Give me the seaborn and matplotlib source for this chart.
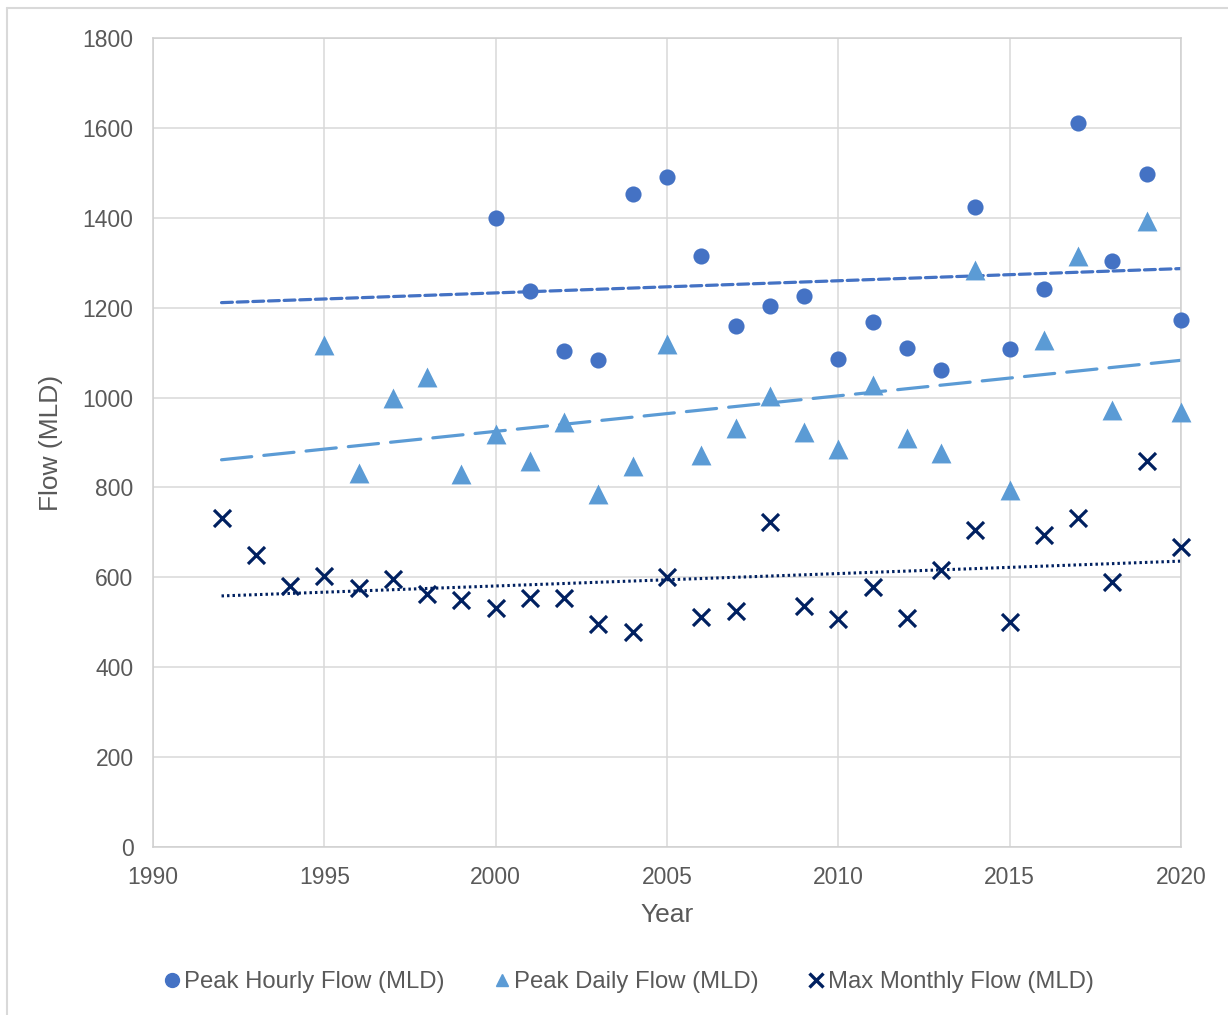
import numpy as np
import pandas as pd
import matplotlib
matplotlib.use("Agg")
import matplotlib.pyplot as plt
from matplotlib.lines import Line2D
import seaborn as sns

# Annual flow records (MLD)
hourly_years = list(range(2000, 2021))
hourly_flow = [1400, 1237, 1104, 1084, 1453, 1491, 1315, 1159, 1204, 1226, 1086,
               1168, 1110, 1061, 1424, 1108, 1242, 1611, 1304, 1498, 1173]

daily_years = list(range(1995, 2021))
daily_flow = [1117, 832, 999, 1046, 830, 919, 859, 946, 785, 848, 1119, 872, 932,
              1004, 923, 886, 1028, 910, 877, 1284, 794, 1128, 1315, 972, 1393, 968]

monthly_years = list(range(1992, 2021))
monthly_flow = [732, 650, 581, 603, 576, 596, 563, 550, 532, 554, 554, 496, 478,
                601, 512, 525, 723, 536, 507, 579, 510, 616, 705, 501, 694, 732,
                590, 859, 668]

series_names = ["Peak Hourly Flow (MLD)", "Peak Daily Flow (MLD)", "Max Monthly Flow (MLD)"]
trend_span = [1992, 2020]

c_hourly = "#4472C4"
c_daily = "#5B9BD5"
c_monthly = "#002060"
text_col = "#595959"
grid_col = "#D9D9D9"

sns.set_theme(style="white")
plt.rcParams["font.family"] = ["Liberation Sans", "DejaVu Sans"]

fig = plt.figure(figsize=(12.28, 10.15), dpi=100)
ax = fig.add_axes([153 / 1228, 1 - 847 / 1015, (1181 - 153) / 1228, (847 - 38) / 1015])

df_h = pd.DataFrame({"year": hourly_years, "flow": hourly_flow})
df_d = pd.DataFrame({"year": daily_years, "flow": daily_flow})
df_m = pd.DataFrame({"year": monthly_years, "flow": monthly_flow})

# Linear trend lines across the full record span
def trend(df):
    k, b = np.polyfit(df["year"], df["flow"], 1)
    xs = np.array(trend_span, dtype=float)
    return pd.DataFrame({"year": xs, "flow": k * xs + b})

t_h, t_d, t_m = trend(df_h), trend(df_d), trend(df_m)

sns.lineplot(data=t_h, x="year", y="flow", ax=ax, color=c_hourly, lw=2.3, zorder=2)
ax.lines[-1].set_dashes((3.4, 1.5))
ax.lines[-1].set_dash_capstyle("round")
sns.lineplot(data=t_d, x="year", y="flow", ax=ax, color=c_daily, lw=2.3, zorder=2)
ax.lines[-1].set_dashes((9.5, 3.8))
ax.lines[-1].set_dash_capstyle("round")
sns.lineplot(data=t_m, x="year", y="flow", ax=ax, color=c_monthly, lw=2.2, zorder=2)
ax.lines[-1].set_dashes((0.8, 1.0))
ax.lines[-1].set_dash_capstyle("butt")

sns.scatterplot(data=df_h, x="year", y="flow", ax=ax, color=c_hourly, marker="o",
                s=135, linewidth=0, zorder=3, clip_on=False)
sns.scatterplot(data=df_d, x="year", y="flow", ax=ax, color=c_daily, marker="^",
                s=205, linewidth=0, zorder=3, clip_on=False)
sns.scatterplot(data=df_m, x="year", y="flow", ax=ax, color=c_monthly, marker="x",
                s=150, linewidth=2.3, zorder=3, clip_on=False)

ax.set_xlim(1990, 2020)
ax.set_ylim(0, 1800)
ax.set_xticks(range(1990, 2021, 5))
ax.set_yticks(range(0, 1801, 200))
ax.grid(True, color=grid_col, linewidth=1.1)
ax.set_axisbelow(True)
for side in ["left", "right", "top", "bottom"]:
    ax.spines[side].set_visible(True)
    ax.spines[side].set_color("#CFCFCF")
    ax.spines[side].set_linewidth(1.1)
ax.tick_params(axis="both", length=0, labelsize=16.5, colors=text_col)
ax.tick_params(axis="y", pad=14)
ax.tick_params(axis="x", pad=14)
ax.set_xlabel("Year", fontsize=19, color=text_col, labelpad=10)
ax.set_ylabel("Flow (MLD)", fontsize=19, color=text_col, labelpad=14)

handles = [
    Line2D([], [], linestyle="none", marker="o", markersize=10, color=c_hourly),
    Line2D([], [], linestyle="none", marker="^", markersize=9, color=c_daily),
    Line2D([], [], linestyle="none", marker="x", markersize=10, markeredgewidth=2.4,
           color=c_monthly),
]
leg = fig.legend(handles, series_names, loc="center", bbox_to_anchor=(0.5125, 1 - 982 / 1015),
                 ncol=3, frameon=False, fontsize=17.2, handlelength=0.6, handletextpad=0.2,
                 columnspacing=2.1, labelcolor=text_col)

# Chart frame
fig.add_artist(Line2D([7 / 1228, 7 / 1228], [0, 1 - 8 / 1015], color="#D9D9D9",
                      lw=1.5, transform=fig.transFigure))
fig.add_artist(Line2D([7 / 1228, 1], [1 - 8 / 1015, 1 - 8 / 1015], color="#D9D9D9",
                      lw=1.5, transform=fig.transFigure))

fig.savefig("out.png", dpi=100)
